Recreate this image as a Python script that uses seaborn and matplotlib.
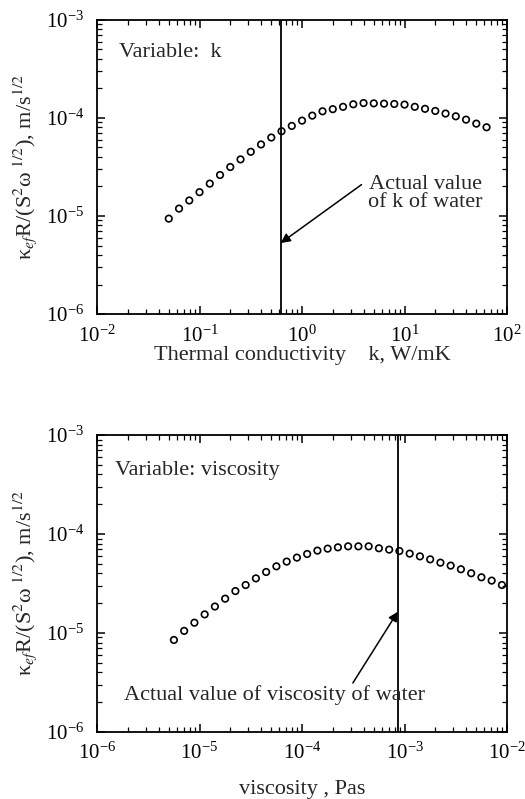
import numpy as np
import pandas as pd
import matplotlib
matplotlib.use("Agg")
import matplotlib.pyplot as plt
import seaborn as sns
from matplotlib.ticker import LogLocator, NullFormatter

# ---- data ----
k_log = [-1.3, -1.2, -1.1, -1.0, -0.9, -0.8, -0.7, -0.6, -0.5, -0.4, -0.3, -0.2,
         -0.1, 0.0, 0.1, 0.2, 0.3, 0.4, 0.5, 0.6, 0.7, 0.8, 0.9, 1.0, 1.1, 1.2,
         1.3, 1.4, 1.5, 1.6, 1.7, 1.8]
k_resp = [9.4e-6, 1.19e-5, 1.44e-5, 1.75e-5, 2.14e-5, 2.62e-5, 3.16e-5, 3.78e-5,
          4.52e-5, 5.37e-5, 6.32e-5, 7.33e-5, 8.30e-5, 9.40e-5, 1.057e-4, 1.17e-4,
          1.23e-4, 1.30e-4, 1.38e-4, 1.42e-4, 1.41e-4, 1.40e-4, 1.39e-4, 1.37e-4,
          1.30e-4, 1.24e-4, 1.18e-4, 1.11e-4, 1.04e-4, 9.62e-5, 8.76e-5, 8.04e-5]
mu_log = [-5.25, -5.15, -5.05, -4.95, -4.85, -4.75, -4.65, -4.55, -4.45, -4.35,
          -4.25, -4.15, -4.05, -3.95, -3.85, -3.75, -3.65, -3.55, -3.45, -3.35,
          -3.25, -3.15, -3.05, -2.95, -2.85, -2.75, -2.65, -2.55, -2.45, -2.35,
          -2.25, -2.15, -2.05]
mu_resp = [8.5e-6, 1.05e-5, 1.27e-5, 1.54e-5, 1.85e-5, 2.22e-5, 2.65e-5, 3.05e-5,
           3.56e-5, 4.13e-5, 4.71e-5, 5.26e-5, 5.77e-5, 6.28e-5, 6.79e-5, 7.11e-5,
           7.33e-5, 7.50e-5, 7.50e-5, 7.50e-5, 7.17e-5, 6.95e-5, 6.73e-5, 6.33e-5,
           5.94e-5, 5.54e-5, 5.13e-5, 4.79e-5, 4.40e-5, 4.01e-5, 3.65e-5, 3.38e-5,
           3.05e-5]
k_water = 0.62
mu_water = 8.6e-4
k_arrow_y = 5.3e-6
mu_arrow_y = 1.64e-5

df_k = pd.DataFrame({"x": np.power(10.0, k_log), "y": k_resp})
df_mu = pd.DataFrame({"x": np.power(10.0, mu_log), "y": mu_resp})

sns.set_theme(style="ticks")
plt.rcParams["font.family"] = ["Liberation Serif", "DejaVu Serif"]
plt.rcParams["mathtext.fontset"] = "stix"
plt.rcParams["axes.unicode_minus"] = False
FS = 16
TFS = 15

fig = plt.figure(figsize=(5.25, 7.99), dpi=100)
ax1 = fig.add_axes([0.1848, 0.607, 0.781, 0.368])
ax2 = fig.add_axes([0.1848, 0.0839, 0.781, 0.3717])

ylab = "κ$_{ef}$R/(S$^2$ω$^{\\ 1/2}$), m/s$^{1/2}$"


def style(ax, xlim):
    ax.set_xscale("log")
    ax.set_yscale("log")
    ax.set_xlim(*xlim)
    ax.set_ylim(1e-6, 1e-3)
    ax.xaxis.set_major_locator(LogLocator(base=10, numticks=20))
    ax.xaxis.set_minor_locator(LogLocator(base=10, subs=np.arange(2, 10), numticks=20))
    ax.yaxis.set_major_locator(LogLocator(base=10, numticks=20))
    ax.yaxis.set_minor_locator(LogLocator(base=10, subs=np.arange(2, 10), numticks=20))
    ax.xaxis.set_minor_formatter(NullFormatter())
    ax.yaxis.set_minor_formatter(NullFormatter())
    ax.tick_params(which="both", direction="in", top=True, right=True,
                   colors="black", labelsize=TFS)
    ax.tick_params(which="major", length=6, width=1.1)
    ax.tick_params(which="minor", length=3.5, width=0.9)
    ax.tick_params(axis="x", which="major", pad=8)
    ax.tick_params(axis="y", which="major", pad=9)
    for s in ax.spines.values():
        s.set_linewidth(1.3)
        s.set_color("black")
    ax.set_ylabel(ylab, fontsize=FS, labelpad=5)


# ---- top panel ----
sns.scatterplot(data=df_k, x="x", y="y", ax=ax1, marker="o", s=22,
                facecolor="none", edgecolor="black", linewidth=1.2, legend=False)
style(ax1, (1e-2, 1e2))
ax1.axvline(k_water, color="black", lw=1.3)
ax1.set_xlabel("Thermal conductivity    k, W/mK", fontsize=FS, labelpad=0)
ax1.text(0.054, 0.888, "Variable:  k", transform=ax1.transAxes, fontsize=FS,
         ha="left", va="center")
ax1.text(0.80, 0.41, "Actual value\nof k of water", transform=ax1.transAxes,
         fontsize=FS, ha="center", va="center", linespacing=0.95)
ax1.annotate("", xy=(k_water, k_arrow_y), xycoords="data",
             xytext=(0.645, 0.44), textcoords="axes fraction",
             arrowprops=dict(arrowstyle="-|>", color="black", lw=1.1,
                             mutation_scale=14, shrinkA=0, shrinkB=0))

# ---- bottom panel ----
sns.scatterplot(data=df_mu, x="x", y="y", ax=ax2, marker="o", s=22,
                facecolor="none", edgecolor="black", linewidth=1.2, legend=False,
                clip_on=False)
style(ax2, (1e-6, 1e-2))
ax2.axvline(mu_water, color="black", lw=1.3)
ax2.set_xlabel("viscosity , Pas", fontsize=FS, labelpad=11)
ax2.text(0.044, 0.882, "Variable: viscosity", transform=ax2.transAxes, fontsize=FS,
         ha="left", va="center")
ax2.text(0.432, 0.125, "Actual value of viscosity of water", transform=ax2.transAxes,
         fontsize=FS, ha="center", va="center")
ax2.annotate("", xy=(mu_water, mu_arrow_y), xycoords="data",
             xytext=(0.624, 0.165), textcoords="axes fraction",
             arrowprops=dict(arrowstyle="-|>", color="black", lw=1.1,
                             mutation_scale=14, shrinkA=0, shrinkB=0))

fig.savefig("out.png", dpi=100, facecolor="white")
